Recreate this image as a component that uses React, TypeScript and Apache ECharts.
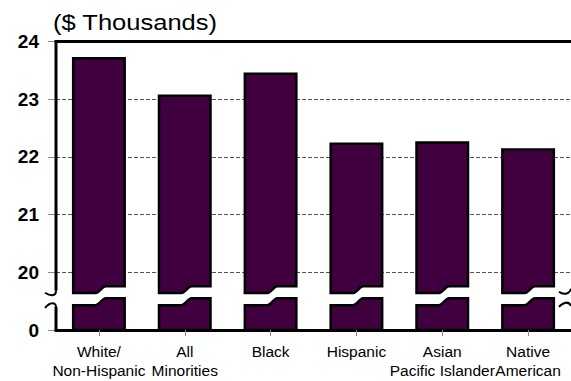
import React, { useEffect, useRef } from "react";
import * as echarts from "echarts";

const categories = [
  "White/\nNon-Hispanic",
  "All\nMinorities",
  "Black",
  "Hispanic",
  "Asian\nPacific Islander",
  "Native\nAmerican",
];
const values = [23.71, 23.06, 23.44, 22.23, 22.25, 22.13];
const tickLabels = ["0", "20", "21", "22", "23", "24"];
const axisResume = 20; // axis breaks between 0 and 20
const titleText = "($ Thousands)";

// map real value to the broken (virtual) scale: 0 -> 0, 20 -> 1, 21 -> 2 ...
const toVirtual = (v: number) => (v >= axisResume ? v - axisResume + 1 : v / axisResume);

const FILL = "#400040";

export default function App() {
  const ref = useRef<HTMLDivElement>(null);
  useEffect(() => {
    const chart = echarts.init(ref.current!, null, { renderer: "svg" });
    const barData = values.map((v, i) => [i, toVirtual(v)]);

    const option: any = {
      animation: false,
      grid: { left: 56, right: -4, top: 41.5, bottom: 51, containLabel: false },
      graphic: [
        {
          type: "text",
          x: 53,
          y: 22,
          scaleX: 1.16,
          style: {
            text: titleText,
            font: "22px 'Liberation Sans', Arial, sans-serif",
            fill: "#000",
            textVerticalAlign: "middle",
            textAlign: "left",
          },
        },
      ],
      xAxis: [
        {
          type: "category",
          data: categories,
          position: "bottom",
          axisLine: { show: true, lineStyle: { color: "#000", width: 3 } },
          axisTick: { show: true, alignWithLabel: true, length: 6, lineStyle: { color: "#888", width: 1 } },
          axisLabel: {
            interval: 0,
            margin: 12,
            color: "#000",
            fontFamily: "'Liberation Sans', Arial, sans-serif",
            fontSize: 15.5,
            lineHeight: 19,
          },
          splitLine: { show: false },
          z: 10,
        },
        {
          type: "category",
          data: categories,
          position: "top",
          axisLine: { show: true, lineStyle: { color: "#000", width: 3 } },
          axisTick: { show: false },
          axisLabel: { show: false },
          z: 10,
        },
      ],
      yAxis: {
        type: "value",
        min: 0,
        max: 5,
        interval: 1,
        axisLine: { show: false },
        axisTick: { show: true, length: 8, lineStyle: { color: "#888", width: 1 } },
        axisLabel: {
          margin: 17,
          color: "#000",
          fontFamily: "'Liberation Sans', Arial, sans-serif",
          fontWeight: "bold",
          fontSize: 19,
          formatter: (val: number) => tickLabels[Math.round(val)] ?? "",
        },
        splitLine: { show: true, lineStyle: { color: "#555", width: 1, type: [4, 2] } },
      },
      series: [
        {
          type: "custom",
          data: barData,
          encode: { x: 0, y: 1 },
          z: 5,
          renderItem: (params: any, api: any) => {
            const idx = api.value(0);
            const top = api.value(1);
            const band = api.size([1, 0])[0];
            const w = band * 0.6;
            const cx = api.coord([idx, 0])[0];
            const x0 = cx - w / 2;
            const x1 = cx + w / 2;
            const y = (v: number) => api.coord([idx, v])[1];
            const yTop = y(top);
            const upLo = y(0.64);
            const upHi = y(0.76);
            const lowLo = y(0.43);
            const lowHi = y(0.55);
            const yZero = y(0);
            const s0 = x0 + w * 0.43;
            const s1 = x0 + w * 0.64;
            const n = 8;
            const slope = (yl: number, yr: number, reverse: boolean) => {
              const pts: number[][] = [];
              for (let k = 0; k <= n; k++) {
                const t = k / n;
                const e = (1 - Math.cos(Math.PI * t)) / 2;
                pts.push([s0 + (s1 - s0) * t, yl + (yr - yl) * e]);
              }
              return reverse ? pts.reverse() : pts;
            };
            const upper = [[x0, yTop], [x1, yTop], [x1, upHi], ...slope(upLo, upHi, true), [x0, upLo]];
            const lower = [[x0, lowLo], ...slope(lowLo, lowHi, false), [x1, lowHi], [x1, yZero], [x0, yZero]];
            const style = { fill: FILL, stroke: "#000", lineWidth: 2.5, lineJoin: "miter" };
            return {
              type: "group",
              children: [
                { type: "polygon", shape: { points: upper }, style },
                { type: "polygon", shape: { points: lower }, style },
              ],
            };
          },
        },
        {
          type: "custom",
          data: [[0, 0]],
          encode: { x: 0, y: 1 },
          z: 11,
          silent: true,
          renderItem: (params: any, api: any) => {
            const band = api.size([1, 0])[0];
            const gx = api.coord([0, 0])[0] - band / 2;
            const gr = api.coord([categories.length - 1, 0])[0] + band / 2;
            const y = (v: number) => api.coord([0, v])[1];
            const yTop = y(5);
            const yA = y(0.68);
            const yB = y(0.4);
            const yZero = y(0);
            const st = { stroke: "#000", lineWidth: 3, fill: "none" };
            const st2 = { stroke: "#000", lineWidth: 2, fill: "none" };
            return {
              type: "group",
              children: [
                { type: "line", shape: { x1: gx, y1: yTop - 1.5, x2: gx, y2: yA }, style: st },
                {
                  type: "bezierCurve",
                  shape: { x1: gx, y1: yA, cpx1: gx, cpy1: yA + 6, cpx2: gx - 6, cpy2: yA + 5, x2: gx - 11, y2: yA + 2 },
                  style: st2,
                },
                { type: "line", shape: { x1: gx, y1: yZero + 1.5, x2: gx, y2: yB }, style: st },
                {
                  type: "bezierCurve",
                  shape: { x1: gx, y1: yB, cpx1: gx, cpy1: yB - 5, cpx2: gx - 6, cpy2: yB - 5, x2: gx - 11, y2: yB + 1 },
                  style: st2,
                },
                {
                  type: "bezierCurve",
                  shape: { x1: gr, y1: yA - 2, cpx1: gr - 2, cpy1: yA + 4, cpx2: gr - 8, cpy2: yA + 4, x2: gr - 12, y2: yA + 1 },
                  style: st2,
                },
                {
                  type: "bezierCurve",
                  shape: { x1: gr, y1: yB - 1, cpx1: gr - 2, cpy1: yB - 6, cpx2: gr - 8, cpy2: yB - 5, x2: gr - 12, y2: yB },
                  style: st2,
                },
              ],
            };
          },
        },
      ],
    };
    chart.setOption(option);
    return () => chart.dispose();
  }, []);
  return (
    <div
      ref={ref}
      style={{ position: "absolute", left: 0, top: 0, width: 571, height: 381, background: "#fff" }}
    />
  );
}
